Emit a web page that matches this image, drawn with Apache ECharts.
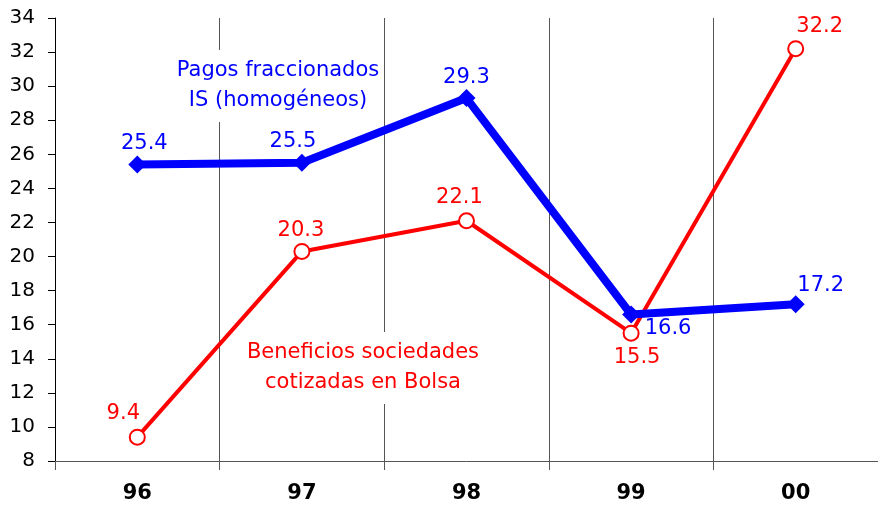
<!DOCTYPE html>
<html>
<head>
<meta charset="utf-8">
<script src="https://cdn.jsdelivr.net/npm/echarts@6/dist/echarts.min.js"></script>
<style>
  html, body { margin: 0; padding: 0; background: #fff; }
  #chart { width: 878px; height: 505px; }
</style>
</head>
<body>
<div id="chart"></div>
<script>
var years = ['96', '97', '98', '99', '00'];
var pagos = [25.4, 25.5, 29.3, 16.6, 17.2];
var beneficios = [9.4, 20.3, 22.1, 15.5, 32.2];

// desplazamiento de cada etiqueta respecto al punto
var pagosOffset = [[7, -21], [-9, -21], [0, -21], [37, 14], [25, -19]];
var benefOffset = [[-14, -24], [-1, -21], [-7, -23], [6, 24], [24, -22]];

var font = 'DejaVu Sans, Verdana, sans-serif';

var chart = echarts.init(document.getElementById('chart'));
chart.setOption({
  animation: false,
  grid: { left: 55, top: 18, width: 828, bottom: 44 },
  xAxis: {
    type: 'category',
    data: years,
    boundaryGap: true,
    axisLine: { lineStyle: { color: '#555', width: 1 } },
    axisTick: { show: true, length: 9, lineStyle: { color: '#555' } },
    splitLine: { show: true, lineStyle: { color: '#555', width: 1 } },
    axisLabel: { color: '#000', fontSize: 21, fontWeight: 'bold', fontFamily: font, margin: 22 }
  },
  yAxis: {
    type: 'value',
    min: 8,
    max: 34,
    interval: 2,
    axisLine: { show: true, lineStyle: { color: '#000', width: 1 } },
    axisTick: { show: true, length: 7, lineStyle: { color: '#000' } },
    splitLine: { show: false },
    axisLabel: { color: '#000', fontSize: 20, fontFamily: font, margin: 20 }
  },
  graphic: [
    {
      type: 'text', z: 1, x: 278, y: 50,
      style: {
        text: 'Pagos fraccionados\nIS (homogéneos)',
        fill: '#0000ff', font: '21px ' + font, align: 'center', verticalAlign: 'top',
        lineHeight: 30, backgroundColor: '#fff', padding: [6, 4]
      }
    },
    {
      type: 'text', z: 1, x: 363, y: 332,
      style: {
        text: 'Beneficios sociedades\ncotizadas en Bolsa',
        fill: '#ff0000', font: '21px ' + font, align: 'center', verticalAlign: 'top',
        lineHeight: 30, backgroundColor: '#fff', padding: [6, 4]
      }
    }
  ],
  series: [
    {
      name: 'Beneficios sociedades cotizadas en Bolsa',
      type: 'line',
      z: 3,
      data: beneficios.map(function (v, i) {
        return { value: v, label: { offset: benefOffset[i] } };
      }),
      symbol: 'emptyCircle',
      symbolSize: 15,
      lineStyle: { color: '#ff0000', width: 4 },
      itemStyle: { color: '#ff0000', borderColor: '#ff0000', borderWidth: 2.5 },
      label: { show: true, position: 'inside', color: '#ff0000', fontSize: 21, fontFamily: font }
    },
    {
      name: 'Pagos fraccionados IS (homogéneos)',
      type: 'line',
      z: 4,
      data: pagos.map(function (v, i) {
        return { value: v, label: { offset: pagosOffset[i] } };
      }),
      symbol: 'diamond',
      symbolSize: 18,
      lineStyle: { color: '#0000ff', width: 8 },
      itemStyle: { color: '#0000ff' },
      label: { show: true, position: 'inside', color: '#0000ff', fontSize: 21, fontFamily: font }
    }
  ]
});
</script>
</body>
</html>
